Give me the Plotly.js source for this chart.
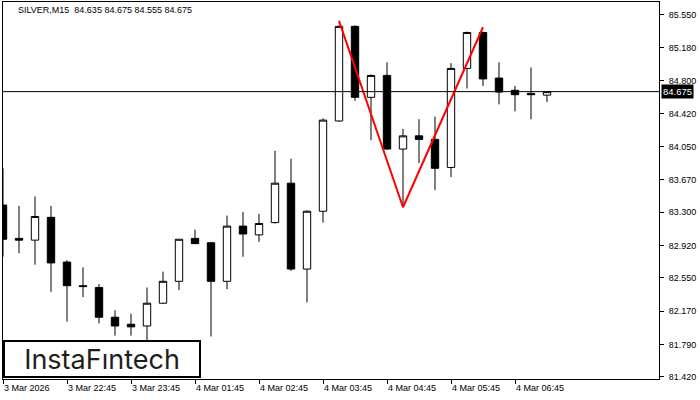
<!DOCTYPE html>
<html>
<head>
<meta charset="utf-8">
<script src="https://cdn.plot.ly/plotly-3.0.1.min.js"></script>
<style>html,body{margin:0;padding:0;background:#fff;}#chart{width:700px;height:400px;}</style>
</head>
<body>
<div id="chart"></div>
<script>
var symbol = "SILVER,M15";
var times = ["3 Mar 21:45","3 Mar 22:00","3 Mar 22:15","3 Mar 22:30","3 Mar 22:45","3 Mar 23:00","3 Mar 23:15","3 Mar 23:30","3 Mar 23:45",
  "4 Mar 01:00","4 Mar 01:15","4 Mar 01:30","4 Mar 01:45","4 Mar 02:00","4 Mar 02:15","4 Mar 02:30","4 Mar 02:45",
  "4 Mar 03:00","4 Mar 03:15","4 Mar 03:30","4 Mar 03:45","4 Mar 04:00","4 Mar 04:15","4 Mar 04:30","4 Mar 04:45",
  "4 Mar 05:00","4 Mar 05:15","4 Mar 05:30","4 Mar 05:45","4 Mar 06:00","4 Mar 06:15","4 Mar 06:30","4 Mar 06:45",
  "4 Mar 07:00","4 Mar 07:15"];
var open  = [83.38,83.00,82.98,83.24,82.73,82.46,82.44,82.10,82.02,82.00,82.26,82.51,83.00,82.95,82.51,83.14,83.04,83.18,83.63,82.65,83.31,84.34,85.42,84.61,84.86,84.02,84.17,84.13,83.81,84.94,85.35,84.83,84.69,84.655,84.635];
var high  = [83.80,83.37,83.48,83.37,82.75,82.67,82.48,82.18,82.14,82.44,82.62,82.99,83.10,82.96,83.26,83.30,83.28,84.00,83.91,83.32,84.37,85.43,85.43,84.87,85.01,84.25,84.36,84.39,85.00,85.36,85.36,85.01,84.74,84.95,84.675];
var low   = [82.79,82.83,82.70,82.39,82.05,82.33,82.03,81.89,81.89,81.80,82.25,82.41,82.94,81.88,82.42,82.79,82.96,83.17,82.63,82.27,83.18,84.33,84.57,84.12,84.01,83.36,83.86,83.55,83.70,84.71,84.74,84.53,84.45,84.36,84.555];
var close = [82.99,82.98,83.25,82.72,82.46,82.45,82.10,82.00,81.99,82.26,82.51,82.99,82.94,82.51,83.14,83.05,83.17,83.63,82.65,83.31,84.35,85.42,84.61,84.86,84.02,84.17,84.13,83.80,84.94,85.35,84.82,84.67,84.64,84.64,84.675];
var patternX = ["4 Mar 04:00","4 Mar 05:00","4 Mar 06:15"];
var patternY = [85.482, 83.355, 85.410];
var xTickVals = ["3 Mar 21:45","3 Mar 22:45","3 Mar 23:45","4 Mar 01:45","4 Mar 02:45","4 Mar 03:45","4 Mar 04:45","4 Mar 05:45","4 Mar 06:45"];
var xTickText = ["3 Mar 2026","3 Mar 22:45","3 Mar 23:45","4 Mar 01:45","4 Mar 02:45","4 Mar 03:45","4 Mar 04:45","4 Mar 05:45","4 Mar 06:45"];
var yTickVals = [85.550,85.180,84.800,84.420,84.050,83.670,83.300,82.920,82.550,82.170,81.790,81.420];
var logoText = "InstaF\u0131ntech";

var n = close.length;
var lastO = open[n-1], lastH = high[n-1], lastL = low[n-1], lastC = close[n-1];
var f3 = function(v){ return v.toFixed(3); };

var traces = [
  {
    type: 'candlestick', x: times, open: open, high: high, low: low, close: close,
    increasing: {line: {color: '#000', width: 1}, fillcolor: '#ffffff'},
    decreasing: {line: {color: '#000', width: 1}, fillcolor: '#000000'},
    whiskerwidth: 0, hoverinfo: 'skip', showlegend: false
  },
  {
    type: 'scatter', mode: 'lines', x: patternX, y: patternY,
    line: {color: '#ff0000', width: 2}, hoverinfo: 'skip', showlegend: false
  }
];

var font = {family: '"Liberation Sans", Arial, sans-serif', size: 9, color: '#000'};

var layout = {
  width: 700, height: 400,
  margin: {l: 3, r: 41, t: 2, b: 21},
  paper_bgcolor: '#fff', plot_bgcolor: '#fff',
  boxgap: 0.34,
  showlegend: false,
  font: font,
  xaxis: {
    type: 'category', categoryorder: 'array', categoryarray: times,
    range: [0, 41], fixedrange: true,
    rangeslider: {visible: false},
    showgrid: false, zeroline: false,
    showline: true, linecolor: '#000', linewidth: 1, mirror: true,
    ticks: 'outside', ticklen: 4, tickcolor: '#000', tickwidth: 1,
    tickmode: 'array', tickvals: xTickVals, ticktext: xTickText,
    ticklabelposition: 'outside right',
    tickfont: font
  },
  yaxis: {
    side: 'right', range: [81.395, 85.698], fixedrange: true,
    showgrid: false, zeroline: false,
    showline: true, linecolor: '#000', linewidth: 1, mirror: true,
    ticks: 'outside', ticklen: 4, tickcolor: '#000', tickwidth: 1,
    tickmode: 'array', tickvals: yTickVals, ticktext: yTickVals.map(f3),
    ticklabelstandoff: 3,
    tickfont: font
  },
  shapes: [
    {type: 'line', xref: 'paper', x0: 0, x1: 1, yref: 'y', y0: lastC, y1: lastC,
     line: {color: '#000', width: 1}}
  ],
  annotations: [
    {xref: 'paper', yref: 'paper', x: 0, y: 1, xanchor: 'left', yanchor: 'middle',
     xshift: 13, yshift: -8, showarrow: false,
     text: symbol + '  ' + [lastO, lastH, lastL, lastC].map(f3).join(' '), font: font},
    {xref: 'paper', yref: 'y', x: 1, y: lastC, xanchor: 'left', yanchor: 'middle',
     xshift: 2, showarrow: false, text: f3(lastC), bgcolor: '#000', borderpad: 1,
     font: {family: font.family, size: 9.5, color: '#fff'}},
    {xref: 'paper', yref: 'paper', x: 0, y: 0, xanchor: 'left', yanchor: 'bottom',
     yshift: 1, showarrow: false, text: logoText, bgcolor: '#fff',
     bordercolor: '#000', borderwidth: 2, borderpad: 0, width: 194, height: 34,
     font: {family: 'Inter, "Noto Sans", sans-serif', size: 27, color: '#1e1e1e', weight: 400}}
  ]
};

Plotly.newPlot('chart', traces, layout, {staticPlot: true, displayModeBar: false});
</script>
</body>
</html>
